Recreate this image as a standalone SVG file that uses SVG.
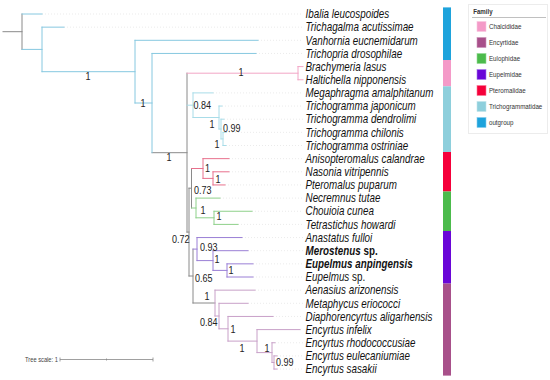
<svg xmlns="http://www.w3.org/2000/svg" width="550" height="380" viewBox="0 0 550 380">
<style>
.b{fill:none;stroke-width:1;stroke-linecap:square}
.gr{stroke:#8a8a8a}.og{stroke:#86c8e0}.ch{stroke:#f2a6c6}.tr{stroke:#a8dce8}.pt{stroke:#e8708c}.eu{stroke:#8ed18a}.ep{stroke:#9a7fd6}.en{stroke:#c8a0c8}
.dot{fill:none;stroke:#e6e6e6;stroke-width:0.8;stroke-dasharray:1 2}
.lf{font-family:"Liberation Sans",Arial,sans-serif;font-size:12px;font-style:italic;fill:#111}
.bd{font-weight:bold}
.up{font-style:normal}
.sv{font-family:"Liberation Sans",Arial,sans-serif;font-size:11px;fill:#222}
.lg{font-family:"Liberation Sans",Arial,sans-serif;font-size:7.6px;fill:#333}
</style>
<rect width="550" height="380" fill="#fff"/>
<g id="connectors">
<g class="dot">
<path d="M42 14H303M64 27.15H303M258 40.3H303M256 53.45H303M213 92.9H303M222 106.05H303M224 119.2H303M226 132.35H303M226 145.5H303M229 158.65H303M229 171.8H303M225 184.95H303M220 198.1H303M252 211.25H303M238 224.4H303M242 237.55H303M248 250.7H303M253 263.85H303M253 277H303M255 290.15H303M248 303.3H303M273 316.45H303M300 329.6H303M275 342.75H303M277 355.9H303M277 369.05H303"/>
</g>
<path class="b gr" d="M3 31.7H22M22 14V49.4M152 152.7H187M187 73.2V232.1M187 232.1H189M189 188.2V276M189 188.2H191.5M191.5 168.5V208M189 276H193M193 249.1V303M193 303H215"/>
<path class="b og" d="M22 14H42M22 49.4H42M42 27.15V71.7M42 27.15H64M42 71.7H135M135 40.3V103M135 40.3H258M135 103H152M152 53.45V152.7M152 53.45H256"/>
<path class="b ch" d="M187 73.2H298M298 66.6V79.75M298 66.6H303M298 79.75H303"/>
<path class="b tr" d="M187 105.2H193M193 92.9V117.5M193 92.9H213M193 117.5H219M219 106.05V129M219 106.05H222M219 129H221M221 119.2V138.9M221 119.2H224M221 138.9H223M223 132.35V145.5M223 132.35H226M223 145.5H226"/>
<path class="b pt" d="M191.5 168.5H203M203 158.65V178.4M203 158.65H229M203 178.4H213M213 171.8V184.95M213 171.8H229M213 184.95H225"/>
<path class="b eu" d="M191.5 208H196M196 198.1V217.8M196 198.1H220M196 217.8H214M214 211.25V224.4M214 211.25H252M214 224.4H238"/>
<path class="b ep" d="M193 249.1H197M197 237.55V260.6M197 237.55H242M197 260.6H213M213 250.7V270.4M213 250.7H248M213 270.4H227M227 263.85V277M227 263.85H253M227 277H253"/>
<path class="b en" d="M215 290.15V316M215 290.15H255M215 316H219M219 303.3V328.8M219 303.3H248M219 328.8H228M228 316.45V341.1M228 316.45H273M228 341.1H257M257 329.6V352.6M257 329.6H300M257 352.6H272M272 342.75V362.5M272 342.75H275M272 362.5H274M274 355.9V369.05M274 355.9H277M274 369.05H277"/>
</g>
<g id="supports" transform="scale(0.82 1)" class="sv">
<text x="104.4" y="80">1</text>
<text x="171.5" y="107">1</text>
<text x="291" y="76.5">1</text>
<text x="236" y="109">0.84</text>
<text x="255.6" y="128">1</text>
<text x="272" y="132.5">0.99</text>
<text x="261.7" y="148">1</text>
<text x="203.2" y="161">1</text>
<text x="250" y="172">1</text>
<text x="262.9" y="183">1</text>
<text x="236.6" y="194">0.73</text>
<text x="244.6" y="214">1</text>
<text x="264.1" y="220">1</text>
<text x="209.8" y="243">0.72</text>
<text x="243.9" y="251">0.93</text>
<text x="261.7" y="263">1</text>
<text x="278.8" y="274">1</text>
<text x="237.8" y="282">0.65</text>
<text x="249.5" y="300">1</text>
<text x="243.9" y="326">0.84</text>
<text x="281.2" y="333">1</text>
<text x="292.2" y="352">1</text>
<text x="322.7" y="352">1</text>
<text x="336.6" y="366">0.99</text>
</g>
<g transform="scale(0.82 1)" class="lf">
<g id="ibalia"><text x="372.6" y="18.3">Ibalia leucospoides</text></g>
<g id="trichagalma"><text x="372.6" y="31.4">Trichagalma acutissimae</text></g>
<g id="vanhornia"><text x="372.6" y="44.6">Vanhornia eucnemidarum</text></g>
<g id="trichopria"><text x="372.6" y="57.7">Trichopria drosophilae</text></g>
<g id="brachymeria"><text x="372.6" y="70.9">Brachymeria lasus</text></g>
<g id="haltichella"><text x="372.6" y="84">Haltichella nipponensis</text></g>
<g id="megaphragma"><text x="372.6" y="97.2">Megaphragma amalphitanum</text></g>
<g id="t_japonicum"><text x="372.6" y="110.3">Trichogramma japonicum</text></g>
<g id="t_dendrolimi"><text x="372.6" y="123.5">Trichogramma dendrolimi</text></g>
<g id="t_chilonis"><text x="372.6" y="136.6">Trichogramma chilonis</text></g>
<g id="t_ostriniae"><text x="372.6" y="149.8">Trichogramma ostriniae</text></g>
<g id="anisopteromalus"><text x="372.6" y="162.9">Anisopteromalus calandrae</text></g>
<g id="nasonia"><text x="372.6" y="176.1">Nasonia vitripennis</text></g>
<g id="pteromalus"><text x="372.6" y="189.2">Pteromalus puparum</text></g>
<g id="necremnus"><text x="372.6" y="202.4">Necremnus tutae</text></g>
<g id="chouioia"><text x="372.6" y="215.5">Chouioia cunea</text></g>
<g id="tetrastichus"><text x="372.6" y="228.7">Tetrastichus howardi</text></g>
<g id="anastatus"><text x="372.6" y="241.8">Anastatus fulloi</text></g>
<g id="merostenus"><text x="372.6" y="255" class="bd">Merostenus <tspan class="up">sp.</tspan></text></g>
<g id="e_anpingensis"><text x="372.6" y="268.1" class="bd">Eupelmus anpingensis</text></g>
<g id="eupelmus_sp"><text x="372.6" y="281.3">Eupelmus <tspan class="up">sp.</tspan></text></g>
<g id="aenasius"><text x="372.6" y="294.4">Aenasius arizonensis</text></g>
<g id="metaphycus"><text x="372.6" y="307.6">Metaphycus eriococci</text></g>
<g id="diaphorencyrtus"><text x="372.6" y="320.7">Diaphorencyrtus aligarhensis</text></g>
<g id="e_infelix"><text x="372.6" y="333.9">Encyrtus infelix</text></g>
<g id="e_rhodococcusiae"><text x="372.6" y="347">Encyrtus rhodococcusiae</text></g>
<g id="e_eulecaniumiae"><text x="372.6" y="360.2">Encyrtus eulecaniumiae</text></g>
<g id="e_sasakii"><text x="372.6" y="373.3">Encyrtus sasakii</text></g>
</g>
<g id="colorbar">
<rect x="443" y="7.4" width="8" height="52.6" fill="#1ea3dc"/>
<rect x="443" y="60" width="8" height="26.3" fill="#f49ac8"/>
<rect x="443" y="86.3" width="8" height="65.7" fill="#8ecfdc"/>
<rect x="443" y="152" width="8" height="39.5" fill="#f5003a"/>
<rect x="443" y="191.5" width="8" height="39.5" fill="#4cbb4c"/>
<rect x="443" y="231" width="8" height="52.6" fill="#6a06d8"/>
<rect x="443" y="283.6" width="8" height="92" fill="#a8508a"/>
</g>
<g id="legend">
<rect x="468.5" y="4.5" width="79" height="129" fill="#fff" stroke="#ececec"/>
<text transform="scale(0.82 1)" x="577" y="14" style="font-family:'Liberation Sans',Arial,sans-serif;font-size:7.5px;font-weight:bold;fill:#333">Family</text>
<line x1="472" y1="17.5" x2="546" y2="17.5" stroke="#b0b0b0" stroke-width="0.8"/>
<rect x="477" y="21.5" width="9" height="10" fill="#f49ac8" stroke="#f8c6e0" stroke-width="0.6"/>
<rect x="477" y="37.5" width="9" height="10" fill="#a8508a" stroke="#cc95b9" stroke-width="0.6"/>
<rect x="477" y="53.5" width="9" height="10" fill="#4cbb4c" stroke="#95da95" stroke-width="0.6"/>
<rect x="477" y="69.5" width="9" height="10" fill="#6a06d8" stroke="#a57ce8" stroke-width="0.6"/>
<rect x="477" y="85.5" width="9" height="10" fill="#f5003a" stroke="#fa7a98" stroke-width="0.6"/>
<rect x="477" y="101.5" width="9" height="10" fill="#8ecfdc" stroke="#c2e5ec" stroke-width="0.6"/>
<rect x="477" y="117.5" width="9" height="10" fill="#1ea3dc" stroke="#86cced" stroke-width="0.6"/>
<g transform="scale(0.82 1)" class="lg">
<text x="596.3" y="29.3">Chalcididae</text>
<text x="596.3" y="45.3">Encyrtidae</text>
<text x="596.3" y="61.3">Eulophidae</text>
<text x="596.3" y="77.3">Eupelmidae</text>
<text x="596.3" y="93.3">Pteromalidae</text>
<text x="596.3" y="109.3">Trichogrammatidae</text>
<text x="596.3" y="125.3">outgroup</text>
</g>
</g>
<g id="treescale">
<text transform="scale(0.82 1)" x="30.5" y="362" style="font-family:'Liberation Sans',Arial,sans-serif;font-size:7px;fill:#444">Tree scale: 1</text>
<path d="M60 359.5H153M60 357.5V361.5M153 357.5V361.5M106.5 358.5V360.5" fill="none" stroke="#888" stroke-width="0.8"/>
</g>
</svg>
